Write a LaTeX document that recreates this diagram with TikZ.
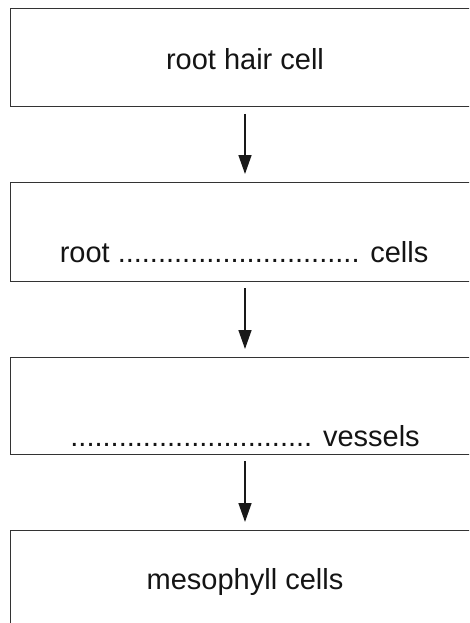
\documentclass[tikz,border=0pt]{standalone}
\usepackage{fontspec}
\setmainfont{Liberation Sans}
\usetikzlibrary{arrows.meta}
\begin{document}
\begin{tikzpicture}[x=1pt,y=-1pt,
  boxst/.style={draw=black!80,line width=1pt,rectangle,minimum width=470pt,minimum height=98pt,inner sep=0pt,outer sep=0pt,anchor=north west},
  txt/.style={font=\fontsize{29}{34}\selectfont,text=black!92,inner sep=0pt,anchor=base},
  arr/.style={draw=black!90,line width=1.5pt,-{Triangle[width=13pt,length=19pt]},shorten <=7pt,shorten >=8pt}]
\useasboundingbox (0,0) rectangle (469,623);
\clip (0,0) rectangle (469,623);
\node[boxst] (b1) at (10.5,9) {};
\node[boxst,minimum height=99pt] (b2) at (10.5,182) {};
\node[boxst,minimum height=97pt] (b3) at (10.5,357) {};
\node[boxst] (b4) at (10.5,530) {};
\node[txt] (t1) at (245,70) {root hair cell};
\node[txt] (t2) at (244,262) {root .............................. cells};
\node[txt] (t3) at (245,446) {.............................. vessels};
\node[txt] (t4) at (245,589) {mesophyll cells};
\coordinate (a1) at (245,0);
\draw[arr] (b1.south -| a1) -- (b2.north -| a1);
\draw[arr] (b2.south -| a1) -- (b3.north -| a1);
\draw[arr] (b3.south -| a1) -- (b4.north -| a1);
\end{tikzpicture}
\end{document}
